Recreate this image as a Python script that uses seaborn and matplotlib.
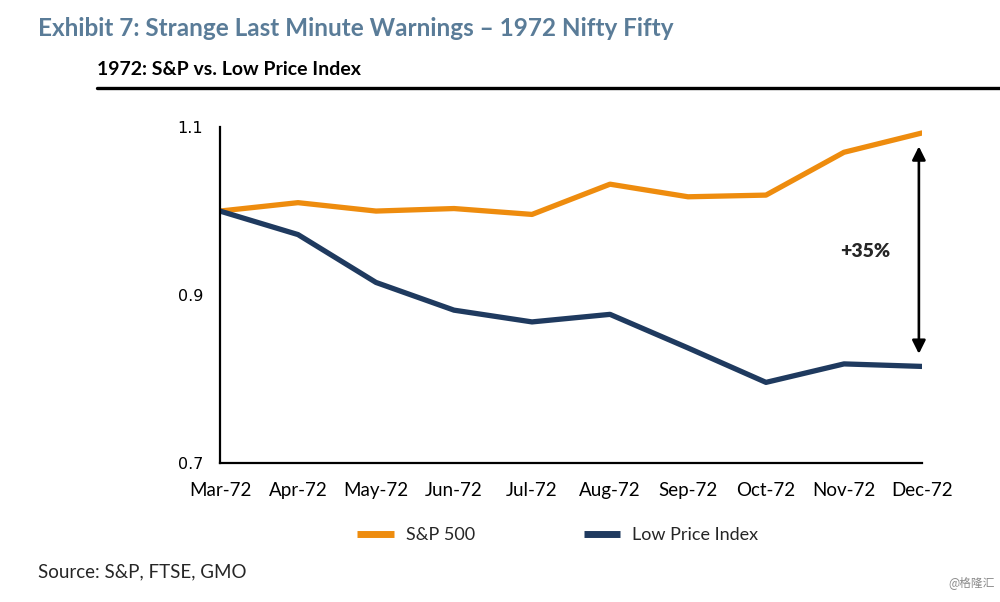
import numpy as np
import pandas as pd
import matplotlib
matplotlib.use("Agg")
import matplotlib.pyplot as plt
import seaborn as sns

months = ["Mar-72", "Apr-72", "May-72", "Jun-72", "Jul-72",
          "Aug-72", "Sep-72", "Oct-72", "Nov-72", "Dec-72"]
sp500 = [1.000, 1.010, 1.000, 1.003, 0.996, 1.032, 1.017, 1.019, 1.070, 1.093]
low_price = [1.000, 0.972, 0.915, 0.882, 0.868, 0.877, 0.837, 0.796, 0.818, 0.815]
y_ticks = [0.7, 0.9, 1.1]
series_names = ["S&P 500", "Low Price Index"]

ORANGE = "#EE8C0E"
NAVY = "#1F3A5F"
TITLE_BLUE = "#5A7C98"

df = pd.DataFrame({
    "pos": list(range(len(months))) * 2,
    "value": sp500 + low_price,
    "series": [series_names[0]] * len(months) + [series_names[1]] * len(months),
})

sns.set_theme(style="white")
plt.rcParams["font.family"] = ["Lato", "DejaVu Sans"]

fig = plt.figure(figsize=(10, 6.02), dpi=100)
ax = fig.add_axes([0.22, 0.2309, 0.702, 0.558])

sns.lineplot(data=df, x="pos", y="value", hue="series",
             palette={series_names[0]: ORANGE, series_names[1]: NAVY},
             linewidth=3.8, ax=ax, legend=False, sort=False)

ax.set_xlim(0, len(months) - 1)
ax.set_ylim(0.7, 1.1)
ax.set_xticks(range(len(months)))
ax.set_xticklabels(months, fontsize=13.5)
ax.set_yticks(y_ticks)
ax.set_yticklabels([f"{t:.1f}" for t in y_ticks], fontsize=11.5, family="DejaVu Sans")
ax.set_xlabel("")
ax.set_ylabel("")

for side in ["top", "right"]:
    ax.spines[side].set_visible(False)
for side in ["left", "bottom"]:
    ax.spines[side].set_color("black")
    ax.spines[side].set_linewidth(1.6)
ax.tick_params(axis="both", direction="out", length=6, width=1.4, colors="black", pad=6)
ax.tick_params(axis="x", pad=8)

# gap annotation
ax.annotate("", xy=(8.96, 1.077), xytext=(8.96, 0.830),
            arrowprops=dict(arrowstyle="<|-|>", color="black", lw=1.9,
                            mutation_scale=20, shrinkA=0, shrinkB=0))
ax.text(8.27, 0.952, "+35%", fontsize=14, fontweight="heavy", ha="center", va="center")

# legend below the axes
handles = [plt.Line2D([0], [0], color=ORANGE, lw=5, solid_capstyle="butt"),
           plt.Line2D([0], [0], color=NAVY, lw=5, solid_capstyle="butt")]
fig.legend(handles, series_names, loc="center", bbox_to_anchor=(0.558, 0.111),
           ncol=2, frameon=False, fontsize=13, handlelength=2.0,
           handletextpad=0.7, columnspacing=6.0)

# titles and rule
fig.text(0.038, 0.952, "Exhibit 7: Strange Last Minute Warnings \u2013 1972 Nifty Fifty",
         fontsize=17.5, fontweight="bold", color=TITLE_BLUE, ha="left", va="center")
fig.text(0.097, 0.884, "1972: S&P vs. Low Price Index",
         fontsize=14, fontweight="bold", color="black", ha="left", va="center")
fig.add_artist(plt.Line2D([0.097, 1.0], [0.853, 0.853], color="black", lw=2.4,
                          transform=fig.transFigure))

fig.text(0.038, 0.05, "Source: S&P, FTSE, GMO", fontsize=13.5, ha="left", va="center")
fig.text(0.995, 0.033, "@格隆汇", fontsize=8.5, color="#8a8a8a", ha="right", va="center",
         family=["Noto Sans CJK SC", "DejaVu Sans"])

fig.savefig("out.png", dpi=100, facecolor="white")
